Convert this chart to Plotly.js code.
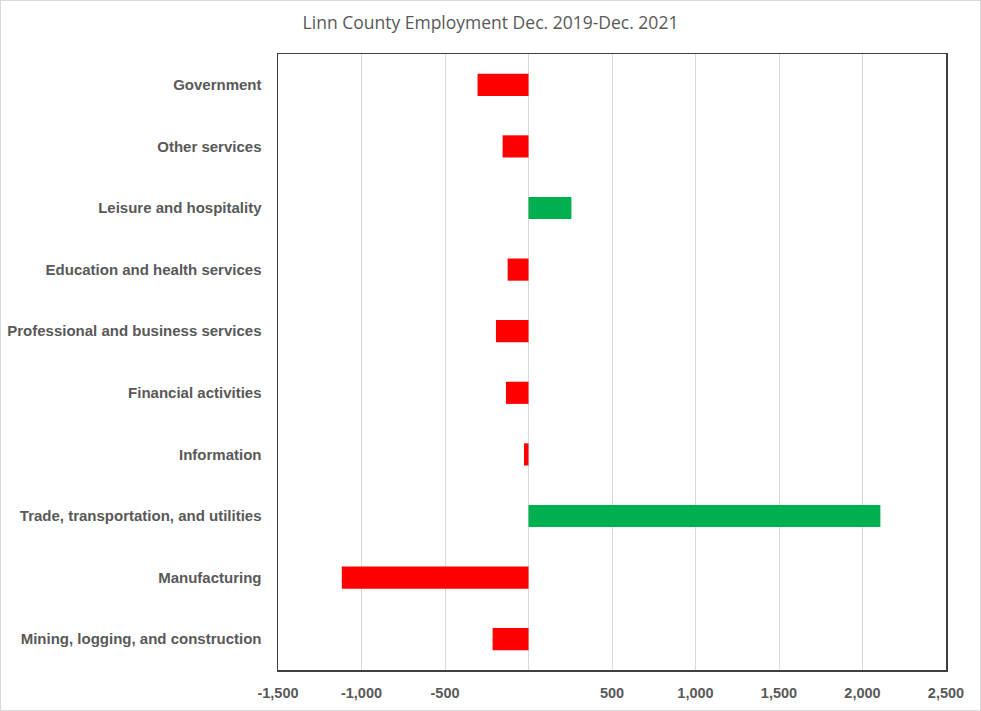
<!DOCTYPE html>
<html>
<head>
<meta charset="utf-8">
<script src="https://cdn.plot.ly/plotly-3.0.1.min.js"></script>
<style>
  html, body { margin: 0; padding: 0; background: #fff; }
  #wrap { width: 979px; height: 709px; border: 1px solid #d9d9d9; }
  #chart { width: 979px; height: 709px; }
</style>
</head>
<body>
<div id="wrap"><div id="chart"></div></div>
<script>
const categories = [
  "Mining, logging, and construction",
  "Manufacturing",
  "Trade, transportation, and utilities",
  "Information",
  "Financial activities",
  "Professional and business services",
  "Education and health services",
  "Leisure and hospitality",
  "Other services",
  "Government"
];
const changes = [-215, -1118, 2107, -27, -135, -195, -125, 257, -155, -305];
const tickValues = [-1500, -1000, -500, 0, 500, 1000, 1500, 2000, 2500];
const tickLabels = ["-1,500", "-1,000", "-500", "", "500", "1,000", "1,500", "2,000", "2,500"];
const titleText = "Linn County Employment Dec. 2019-Dec. 2021";

const colors = changes.map(v => v < 0 ? "#FF0000" : "#00B050");

const trace = {
  type: "bar",
  orientation: "h",
  y: categories,
  x: changes,
  marker: { color: colors, line: { width: 0 } },
  hoverinfo: "x+y"
};

const layout = {
  width: 979,
  height: 709,
  margin: { l: 277, r: 34, t: 53, b: 40 },
  paper_bgcolor: "#ffffff",
  plot_bgcolor: "#ffffff",
  font: { family: "Liberation Sans, Arial, sans-serif", color: "#595959" },
  title: {
    text: titleText,
    font: { family: "Open Sans, Liberation Sans, sans-serif", size: 17.5, color: "#595959" },
    x: 0.5, xanchor: "center",
    y: 0.969, yanchor: "middle"
  },
  bargap: 0.64,
  showlegend: false,
  xaxis: {
    range: [-1500, 2500],
    tickvals: tickValues,
    ticktext: tickLabels,
    tickfont: { size: 14.5, color: "#595959", weight: "bold" },
    showgrid: true,
    gridcolor: "#d9d9d9",
    gridwidth: 1,
    zeroline: false,
    showline: true,
    linecolor: "#404040",
    linewidth: 1.5,
    mirror: true,
    ticks: "",
    ticklabelstandoff: 9,
    fixedrange: true
  },
  yaxis: {
    type: "category",
    tickfont: { size: 15, color: "#595959", weight: "bold" },
    showgrid: false,
    zeroline: false,
    showline: true,
    linecolor: "#404040",
    linewidth: 1.5,
    mirror: true,
    ticks: "",
    ticklabelstandoff: 12,
    fixedrange: true
  }
};

Plotly.newPlot("chart", [trace], layout, { displayModeBar: false, staticPlot: true });
</script>
</body>
</html>
